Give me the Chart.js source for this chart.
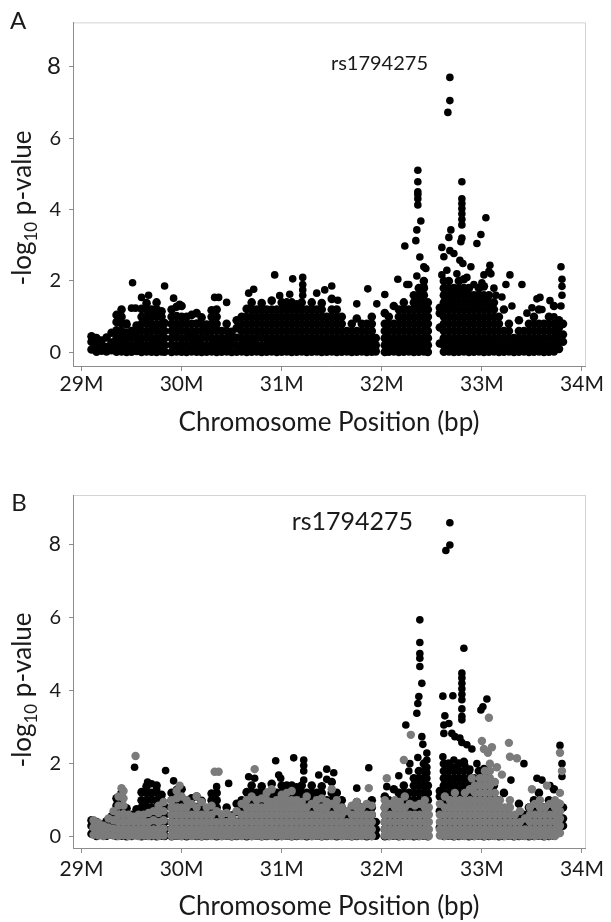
<!DOCTYPE html>
<html>
<head>
<meta charset="utf-8">
<script src="https://cdn.jsdelivr.net/npm/chart.js@4.4.1/dist/chart.umd.min.js"></script>
<style>
  body { margin: 0; background: #fff; }
  canvas { display: block; }
</style>
</head>
<body>
<canvas id="panelA" width="611" height="460"></canvas>
<canvas id="panelB" width="611" height="462"></canvas>
<script>
// x ticks (Mb) and y ticks (-log10 p)
const xTicks = [29, 30, 31, 32, 33, 34];
const yTicks = [0, 2, 4, 6, 8];

// dense band of SNPs near the floor: column position (Mb) and the values stacked in it
const floorCols = [29.10, 29.15, 29.20, 29.25, 29.30, 29.35, 29.40, 29.45, 29.50, 29.55,
  29.60, 29.65, 29.70, 29.75, 29.80, 29.83, 29.90, 29.95, 30.00, 30.05,
  30.10, 30.15, 30.20, 30.25, 30.30, 30.35, 30.40, 30.45, 30.50, 30.55,
  30.60, 30.65, 30.70, 30.75, 30.80, 30.85, 30.90, 30.95, 31.00, 31.05,
  31.10, 31.15, 31.20, 31.25, 31.30, 31.35, 31.40, 31.45, 31.50, 31.55,
  31.60, 31.65, 31.70, 31.75, 31.80, 31.85, 31.90, 31.94, 32.03, 32.07,
  32.12, 32.17, 32.22, 32.27, 32.32, 32.37, 32.42, 32.46, 32.58, 32.62,
  32.67, 32.72, 32.77, 32.82, 32.87, 32.92, 32.97, 33.02, 33.07, 33.12,
  33.17, 33.22, 33.27, 33.32, 33.37, 33.42, 33.47, 33.52, 33.57, 33.62,
  33.67, 33.72, 33.77, 33.81];
const floorStacks = [
  [0.08, 0.3, 0.45], [0.02, 0.22, 0.4], [0.05, 0.18, 0.33], [0.03, 0.15, 0.42], [0.06, 0.28, 0.55],
  [0.02, 0.2, 0.4, 0.62, 0.85, 1.05], [0.03, 0.22, 0.43, 0.6, 0.82, 1.0, 1.2], [0.01, 0.19, 0.38, 0.55, 0.78],
  [0.02, 0.2, 0.41, 0.6], [0.04, 0.22, 0.4, 0.58, 0.75],
  [0.01, 0.2, 0.39, 0.6, 0.8, 1.0, 1.22], [0.03, 0.21, 0.42, 0.6, 0.81, 1.0, 1.2, 1.38],
  [0.02, 0.19, 0.4, 0.61, 0.8, 1.01, 1.2], [0.01, 0.2, 0.4, 0.6, 0.79, 1.0, 1.21, 1.4],
  [0.03, 0.22, 0.41, 0.6, 0.8, 1.0, 1.15], [0.02, 0.2, 0.4, 0.6, 0.82],
  [0.01, 0.21, 0.4, 0.6, 0.8, 1.0, 1.2], [0.03, 0.2, 0.42, 0.61, 0.8, 1.02, 1.28],
  [0.02, 0.2, 0.39, 0.6, 0.8, 1.0, 1.3], [0.01, 0.21, 0.41, 0.6, 0.8, 1.0],
  [0.03, 0.2, 0.4, 0.59, 0.8, 1.05], [0.02, 0.2, 0.4, 0.6, 0.81, 1.1], [0.01, 0.19, 0.4, 0.6, 0.8, 0.98],
  [0.02, 0.2, 0.41, 0.6, 0.78], [0.03, 0.21, 0.4, 0.6, 0.8, 1.0, 1.18], [0.01, 0.2, 0.4, 0.62, 0.8, 1.0, 1.2],
  [0.02, 0.2, 0.4, 0.6], [0.03, 0.2, 0.39, 0.6, 0.8], [0.01, 0.22, 0.4, 0.58], [0.02, 0.2, 0.41, 0.68, 0.9],
  [0.03, 0.2, 0.4, 0.6, 0.8, 1.0], [0.01, 0.2, 0.4, 0.6, 0.8, 1.0, 1.22], [0.02, 0.21, 0.4, 0.6, 0.8, 1.0, 1.2, 1.4],
  [0.03, 0.2, 0.4, 0.6, 0.8, 1.0, 1.2], [0.01, 0.2, 0.41, 0.6, 0.8, 1.0, 1.2, 1.38], [0.02, 0.2, 0.4, 0.6, 0.8, 1.0, 1.2],
  [0.03, 0.2, 0.4, 0.6, 0.8, 1.0, 1.2, 1.45], [0.01, 0.2, 0.4, 0.6, 0.8, 1.0, 1.2], [0.02, 0.2, 0.4, 0.6, 0.8, 1.0, 1.2, 1.4],
  [0.03, 0.2, 0.4, 0.6, 0.8, 1.0, 1.2, 1.4], [0.01, 0.2, 0.4, 0.6, 0.8, 1.0, 1.2, 1.4], [0.02, 0.2, 0.4, 0.6, 0.8, 1.0, 1.2, 1.35],
  [0.03, 0.2, 0.4, 0.6, 0.8, 1.0, 1.2, 1.4], [0.01, 0.2, 0.4, 0.6, 0.8, 1.0, 1.2], [0.02, 0.2, 0.4, 0.6, 0.8, 1.0, 1.2, 1.4],
  [0.03, 0.2, 0.4, 0.6, 0.8, 1.0, 1.2], [0.01, 0.2, 0.4, 0.6, 0.8, 1.0, 1.2, 1.38], [0.02, 0.2, 0.4, 0.6, 0.8, 1.0],
  [0.03, 0.2, 0.4, 0.6, 0.8, 1.0, 1.2, 1.5], [0.01, 0.2, 0.4, 0.6, 0.8, 1.0, 1.2],
  [0.02, 0.2, 0.4, 0.6, 0.8, 1.0], [0.03, 0.2, 0.4, 0.6], [0.01, 0.2, 0.4, 0.6, 0.8], [0.02, 0.2, 0.4, 0.6, 0.95],
  [0.03, 0.2, 0.4, 0.6, 0.8], [0.01, 0.2, 0.4, 0.6, 0.8], [0.02, 0.2, 0.4, 0.6, 0.8, 1.0], [0.03, 0.2, 0.4],
  [0.01, 0.2, 0.4, 0.6, 0.8, 1.1], [0.02, 0.2, 0.4, 0.6, 0.8, 1.0], [0.03, 0.2, 0.4, 0.6, 0.8, 1.3],
  [0.01, 0.2, 0.4, 0.6, 0.8, 1.0, 1.2], [0.02, 0.2, 0.4, 0.6, 0.8, 1.0, 1.2, 1.4], [0.03, 0.2, 0.4, 0.6, 0.8, 1.0, 1.2],
  [0.01, 0.2, 0.4, 0.6, 0.8, 1.0, 1.2, 1.4, 1.6], [0.02, 0.2, 0.4, 0.6, 0.8, 1.0, 1.2, 1.4, 1.6, 1.8],
  [0.03, 0.2, 0.4, 0.6, 0.8, 1.0, 1.2, 1.4, 1.6, 1.8, 2.0], [0.01, 0.2, 0.4, 0.6, 0.8, 1.0, 1.2, 1.4],
  [0.25, 0.7, 1.1, 1.25], [0.02, 0.2, 0.4, 0.6, 0.8, 1.0, 1.2, 1.4, 1.6, 1.8, 2.0],
  [0.03, 0.2, 0.4, 0.6, 0.8, 1.0, 1.2, 1.4, 1.6, 1.8, 2.0], [0.01, 0.2, 0.4, 0.6, 0.8, 1.0, 1.2, 1.4, 1.6, 1.8],
  [0.02, 0.2, 0.4, 0.6, 0.8, 1.0, 1.2, 1.4, 1.6, 1.8, 2.0], [0.03, 0.2, 0.4, 0.6, 0.8, 1.0, 1.2, 1.4, 1.6, 1.8, 2.05],
  [0.01, 0.2, 0.4, 0.6, 0.8, 1.0, 1.2, 1.4, 1.6, 1.8], [0.02, 0.2, 0.4, 0.6, 0.8, 1.0, 1.2, 1.4, 1.6],
  [0.03, 0.2, 0.4, 0.6, 0.8, 1.0, 1.2, 1.4, 1.6, 1.8], [0.01, 0.2, 0.4, 0.6, 0.8, 1.0, 1.2, 1.4, 1.6, 1.85],
  [0.02, 0.2, 0.4, 0.6, 0.8, 1.0, 1.2, 1.4, 1.6], [0.03, 0.2, 0.4, 0.6, 0.8, 1.0, 1.2, 1.4],
  [0.01, 0.2, 0.4, 0.6, 0.8, 1.0], [0.02, 0.2, 0.4, 0.6, 1.2], [0.03, 0.2, 0.4, 0.6, 0.8],
  [0.01, 0.2, 0.4], [0.02, 0.2, 0.4, 0.6, 0.9], [0.03, 0.2, 0.4, 0.6], [0.01, 0.2, 0.4, 0.6, 0.8],
  [0.02, 0.2, 0.4, 0.6, 0.8, 1.0], [0.03, 0.2, 0.4, 0.6, 0.8, 1.2], [0.01, 0.2, 0.4, 0.6, 0.8],
  [0.02, 0.2, 0.4, 0.6, 0.8, 1.0], [0.03, 0.2, 0.4, 0.6, 0.8, 1.3], [0.1, 0.3, 0.5, 0.7, 0.9], [0.3, 0.5, 0.8]
];

// panel A: SNPs standing above the band
const hitPosA = [29.45, 29.5, 29.54, 29.51, 29.6, 29.67, 29.83, 29.92, 29.98, 30.33, 30.37, 30.45, 30.67, 30.72,
  30.93, 30.98, 31.08, 31.11, 31.21, 31.21, 31.21, 31.21, 31.35, 31.43, 31.5, 31.56, 31.75, 31.86, 31.95,
  32.03, 32.16, 32.25, 32.27, 32.23, 32.35, 32.39, 32.34, 32.38, 32.42, 32.44, 32.35, 32.42, 32.42,
  32.36, 32.36, 32.36, 32.36, 32.36, 32.36, 32.68, 32.68, 32.66,
  32.8, 32.8, 32.8, 32.8, 32.8, 32.8, 32.8, 32.8, 32.79, 33.04, 32.99, 32.95, 32.69, 32.67, 32.6, 32.62,
  32.68, 32.72, 32.78, 32.81, 32.89, 32.6, 33.08, 33.07, 33.02, 33.09, 33.24, 33.28, 33.4, 33.55, 33.58,
  33.68, 33.79, 33.8, 33.8, 33.8, 33.79, 32.65, 32.75, 32.85, 32.92, 33.0, 33.12, 33.2, 33.14, 33.3,
  33.45, 33.5, 33.6, 33.72];
const hitLogA = [0.82, 1.24, 1.24, 1.95, 1.54, 1.6, 1.86, 1.52, 1.35, 1.54, 1.54, 1.4, 1.66, 1.77,
  2.17, 1.59, 1.63, 2.06, 2.1, 1.9, 1.75, 1.6, 1.66, 1.75, 1.86, 1.46, 1.36, 1.78, 1.36,
  1.62, 2.05, 1.9, 1.9, 2.98, 3.43, 3.68, 3.13, 2.67, 2.4, 2.35, 2.14, 2.0, 1.85,
  5.1, 4.78, 4.5, 4.42, 4.3, 4.13, 7.7, 7.05, 6.72,
  4.78, 4.3, 4.17, 4.03, 3.88, 3.73, 3.57, 3.2, 3.1, 3.77, 3.3, 3.05, 3.43, 3.22, 2.94, 2.68,
  2.85, 2.77, 2.58, 2.49, 2.4, 2.17, 2.44, 2.27, 2.17, 2.2, 1.9, 2.17, 1.9, 1.5, 1.54,
  1.45, 2.4, 2.05, 1.85, 1.6, 1.3, 2.3, 2.2, 2.1, 1.9, 1.95, 1.8, 1.55, 1.6, 1.3,
  1.1, 1.25, 1.2, 1.0];

// panel B, black series: SNPs above the band
const hitPosB = [32.68, 32.68, 32.64, 32.38, 32.38, 32.38, 32.38, 32.38, 32.4, 32.37, 32.36, 32.35, 32.24,
  32.4, 32.41, 32.45, 32.45, 32.45, 32.45, 32.45, 32.36, 32.28, 32.27, 32.17, 32.05, 31.87, 31.75,
  31.12, 31.22, 31.22, 31.22, 31.22, 31.37, 31.45, 31.52, 31.45, 30.99,
  32.82, 32.8, 32.8, 32.8, 32.8, 32.8, 32.8, 32.8, 32.8, 32.8,
  32.61, 32.71, 32.99, 33.01, 33.05, 32.63, 32.62, 32.62, 32.67, 32.7, 32.73, 32.78, 32.8, 32.85, 32.9, 32.61,
  32.65, 32.65, 32.72, 32.72, 32.77, 32.83, 32.88, 32.95,
  29.53, 29.84, 29.92, 30.47, 30.35, 30.67, 30.73, 30.94, 30.97, 29.66, 29.7, 29.75,
  33.78, 33.8, 33.8, 33.29, 33.42, 33.55, 33.6, 33.68];
const hitLogB = [8.6, 7.99, 7.84, 5.94, 5.32, 5.02, 4.89, 4.66, 4.2, 3.84, 3.65, 3.38, 3.06,
  2.74, 2.53, 2.29, 2.1, 1.9, 1.75, 1.6, 2.17, 2.0, 1.8, 1.67, 1.37, 1.89, 1.33,
  2.16, 2.1, 1.95, 1.8, 1.55, 1.69, 1.85, 1.75, 1.57, 1.6,
  5.16, 4.48, 4.35, 4.2, 4.05, 3.9, 3.75, 3.5, 3.3, 3.2,
  3.85, 3.86, 3.47, 3.56, 3.77, 3.31, 3.06, 2.83, 3.1, 2.83, 2.74, 2.7, 2.58, 2.52, 2.4, 2.19,
  2.0, 1.8, 2.1, 1.9, 2.0, 1.95, 1.85, 2.0,
  1.9, 1.81, 1.53, 1.46, 1.37, 1.64, 1.6, 2.08, 1.69, 1.5, 1.45, 1.3,
  2.5, 2.0, 1.65, 1.55, 2.0, 1.6, 1.55, 1.4];

// panel B, grey series: dense band and the few above it
const grayCols = [29.12, 29.17, 29.22, 29.27, 29.32, 29.37, 29.42, 29.47, 29.52, 29.57,
  29.62, 29.67, 29.72, 29.77, 29.82, 29.90, 29.95, 30.00, 30.05, 30.10,
  30.15, 30.20, 30.25, 30.30, 30.35, 30.40, 30.45, 30.50, 30.55, 30.60,
  30.65, 30.70, 30.75, 30.80, 30.85, 30.90, 30.95, 31.00, 31.05, 31.10,
  31.15, 31.20, 31.25, 31.30, 31.35, 31.40, 31.45, 31.50, 31.55, 31.60,
  31.65, 31.70, 31.75, 31.80, 31.85, 31.90, 32.03, 32.08, 32.13, 32.18,
  32.23, 32.28, 32.33, 32.38, 32.43, 32.47, 32.58, 32.63, 32.68, 32.73,
  32.78, 32.83, 32.88, 32.93, 32.98, 33.03, 33.08, 33.13, 33.18, 33.23,
  33.28, 33.33, 33.38, 33.43, 33.48, 33.53, 33.58, 33.63, 33.68, 33.73, 33.78];
const grayStacks = [
  [0.05, 0.25, 0.45], [0.03, 0.2, 0.38], [0.02, 0.18, 0.3], [0.05, 0.25, 0.5], [0.03, 0.22, 0.45, 0.7],
  [0.02, 0.2, 0.4, 0.6, 0.85, 1.1], [0.04, 0.22, 0.42, 0.62, 0.85, 1.05, 1.25], [0.02, 0.2, 0.4, 0.6],
  [0.03, 0.2, 0.4, 0.55], [0.02, 0.2, 0.4, 0.6],
  [0.03, 0.22, 0.42, 0.6], [0.02, 0.2, 0.4, 0.65], [0.03, 0.2, 0.45, 0.7], [0.02, 0.2, 0.4, 0.65, 0.85],
  [0.03, 0.22, 0.45, 0.7, 0.95], [0.02, 0.2, 0.4, 0.6, 0.8, 1.0], [0.03, 0.2, 0.4, 0.6, 0.8, 1.05, 1.25],
  [0.02, 0.2, 0.4, 0.6, 0.8, 1.1], [0.03, 0.2, 0.4, 0.6, 0.8, 1.0], [0.02, 0.2, 0.4, 0.6, 0.9],
  [0.03, 0.2, 0.4, 0.6, 0.8, 1.1], [0.02, 0.2, 0.4, 0.6, 0.95], [0.03, 0.2, 0.4, 0.6, 0.8], [0.02, 0.2, 0.4, 0.6, 0.85],
  [0.03, 0.2, 0.4, 0.7], [0.02, 0.2, 0.4, 0.6], [0.03, 0.2, 0.4, 0.65], [0.02, 0.2, 0.4, 0.55],
  [0.03, 0.2, 0.4, 0.7], [0.02, 0.2, 0.4, 0.6, 0.9],
  [0.03, 0.2, 0.4, 0.6, 0.8, 1.0], [0.02, 0.2, 0.4, 0.6, 0.8, 1.1], [0.03, 0.2, 0.4, 0.6, 0.8, 1.0],
  [0.02, 0.2, 0.4, 0.6, 0.8, 1.05], [0.03, 0.2, 0.4, 0.6, 0.8, 1.0, 1.2], [0.02, 0.2, 0.4, 0.6, 0.8, 0.95],
  [0.03, 0.2, 0.4, 0.6, 0.8, 1.0], [0.02, 0.2, 0.4, 0.6, 0.8, 1.0, 1.15], [0.03, 0.2, 0.4, 0.6, 0.8, 1.0, 1.2],
  [0.02, 0.2, 0.4, 0.6, 0.8, 1.0, 1.25],
  [0.03, 0.2, 0.4, 0.6, 0.8, 1.0], [0.02, 0.2, 0.4, 0.6, 0.8, 0.95], [0.03, 0.2, 0.4, 0.6, 0.8, 1.1],
  [0.02, 0.2, 0.4, 0.6, 0.9], [0.03, 0.2, 0.4, 0.6, 0.8, 1.0], [0.02, 0.2, 0.4, 0.6, 0.8, 1.05],
  [0.03, 0.2, 0.4, 0.6, 0.8, 0.95], [0.02, 0.2, 0.4, 0.6, 0.9], [0.03, 0.2, 0.4, 0.6, 0.8, 1.0], [0.02, 0.2, 0.4, 0.6, 0.8],
  [0.03, 0.2, 0.4, 0.7], [0.02, 0.2, 0.4, 0.6, 0.85], [0.03, 0.2, 0.4, 0.6, 0.8, 0.95], [0.02, 0.2, 0.4, 0.6, 0.8],
  [0.03, 0.2, 0.4, 0.6, 0.9], [0.02, 0.2, 0.4, 0.6, 0.85], [0.03, 0.2, 0.4, 0.6, 0.8, 1.0], [0.02, 0.2, 0.4, 0.6, 0.9],
  [0.03, 0.2, 0.4, 0.6, 0.8, 1.0], [0.02, 0.2, 0.4, 0.6, 0.8, 0.95],
  [0.03, 0.2, 0.4, 0.6, 0.8, 1.1], [0.02, 0.2, 0.4, 0.6, 0.9], [0.03, 0.2, 0.4, 0.6, 0.85], [0.02, 0.2, 0.4, 0.6, 0.9],
  [0.03, 0.2, 0.4, 0.6, 0.8, 1.0], [0.02, 0.2, 0.4, 0.6, 0.8], [0.03, 0.2, 0.4, 0.6, 0.9],
  [0.02, 0.2, 0.4, 0.6, 0.8, 1.1], [0.03, 0.2, 0.4, 0.6, 0.8, 1.0], [0.02, 0.2, 0.4, 0.6, 0.8, 1.0, 1.2],
  [0.03, 0.2, 0.4, 0.6, 0.8, 1.0], [0.02, 0.2, 0.4, 0.6, 0.8, 1.0, 1.2], [0.03, 0.2, 0.4, 0.6, 0.8, 1.0, 1.3],
  [0.02, 0.2, 0.4, 0.6, 0.8, 1.0, 1.2, 1.4], [0.03, 0.2, 0.4, 0.6, 0.8, 1.0, 1.2, 1.4, 1.6],
  [0.02, 0.2, 0.4, 0.6, 0.8, 1.0, 1.2, 1.4, 1.6, 1.8], [0.03, 0.2, 0.4, 0.6, 0.8, 1.0, 1.2, 1.4, 1.6, 1.8, 2.0],
  [0.02, 0.2, 0.4, 0.6, 0.8, 1.0, 1.2, 1.5], [0.03, 0.2, 0.4, 0.6, 0.8, 1.0], [0.02, 0.2, 0.4, 0.6, 0.8],
  [0.03, 0.2, 0.4, 0.6, 0.8, 1.0], [0.02, 0.2, 0.4, 0.6], [0.03, 0.2, 0.4, 0.7], [0.02, 0.2, 0.5],
  [0.03, 0.2, 0.4, 0.6, 0.8], [0.02, 0.2, 0.4, 0.6, 0.9], [0.03, 0.2, 0.4, 0.6, 0.8, 1.0], [0.02, 0.2, 0.4, 0.6, 0.8],
  [0.03, 0.2, 0.4, 0.6, 0.9], [0.02, 0.2, 0.4, 0.6, 0.8, 1.0], [0.1, 0.3, 0.5, 0.7, 0.9, 1.2]
];
const grayHitPos = [29.54, 30.33, 30.37, 30.73, 32.29, 32.22, 32.05, 31.87, 33.07, 33.0, 33.02, 33.06, 33.1,
  33.28, 33.27, 33.35, 33.78, 33.8, 29.4, 32.9, 33.15, 33.2, 33.5, 33.65, 30.9, 31.5, 29.98];
const grayHitLog = [2.21, 1.78, 1.78, 1.85, 2.79, 2.1, 1.6, 1.33, 3.26, 2.62, 2.4, 2.3, 2.45,
  2.19, 2.57, 2.15, 2.3, 1.8, 1.33, 1.6, 1.9, 1.7, 1.3, 1.4, 1.3, 1.3, 1.4];

const stackPoints = (cols, stacks) => cols.flatMap((x, i) => stacks[i].map(y => ({x: x, y: y})));
const pairPoints = (xs, ys) => xs.map((x, i) => ({x: x, y: ys[i]}));

const INK = '#1a1a1a';

// light grey frame round the plot area
const frame = {
  id: 'frame',
  beforeDraw(chart) {
    const {ctx, chartArea: a} = chart;
    ctx.save();
    ctx.strokeStyle = '#d4d4d4';
    ctx.lineWidth = 1;
    ctx.strokeRect(a.left + 0.5, a.top + 0.5, a.right - a.left, a.bottom - a.top);
    ctx.restore();
  }
};

// panel letter, SNP label and the y title with its subscript
const panelText = {
  id: 'panelText',
  afterDraw(chart, args, o) {
    const c = chart.ctx;
    c.save();
    c.fillStyle = INK;
    c.textBaseline = 'middle';
    c.textAlign = 'center';
    c.font = '24px Lato';
    c.fillText(o.letter, o.letterX, o.letterY);
    c.textAlign = 'right';
    c.font = o.rsSize + 'px Lato';
    c.fillText('rs1794275', o.rsX, o.rsY);

    c.translate(o.titleX, o.titleY);
    c.rotate(-Math.PI / 2);
    c.textAlign = 'left';
    c.textBaseline = 'alphabetic';
    const big = '26px Lato', small = '17px Lato';
    c.font = big;
    const w1 = c.measureText('-log').width, w3 = c.measureText(' p-value').width;
    c.font = small;
    const w2 = c.measureText('10').width;
    let x = -(w1 + w2 + w3) / 2;
    c.font = big; c.fillText('-log', x, 9); x += w1;
    c.font = small; c.fillText('10', x, 15); x += w2;
    c.font = big; c.fillText(' p-value', x, 9);
    c.restore();
  }
};

function makePanel(id, datasets, p) {
  return new Chart(document.getElementById(id), {
    type: 'scatter',
    data: { datasets: datasets },
    plugins: [frame, panelText],
    options: {
      responsive: false,
      animation: false,
      events: [],
      layout: { padding: { left: 0, right: 26, top: p.top, bottom: 0 } },
      plugins: {
        legend: { display: false },
        tooltip: { enabled: false },
        panelText: p.text
      },
      scales: {
        x: {
          type: 'linear',
          min: 28.915,
          max: 34.03,
          afterBuildTicks: s => { s.ticks = xTicks.map(v => ({value: v})); },
          afterFit: s => { s.height = p.xHeight; },
          border: { color: '#8c8c8c' },
          grid: { drawOnChartArea: false, tickLength: 5, color: '#8c8c8c' },
          ticks: {
            padding: p.xPad,
            color: INK,
            maxRotation: 0,
            font: { family: 'Lato', size: 21 },
            callback: v => v + 'M'
          },
          title: {
            display: true,
            text: 'Chromosome Position (bp)',
            color: INK,
            font: { family: 'Lato', size: 26 },
            padding: { top: 0, bottom: p.titlePad }
          }
        },
        y: {
          min: p.yMin,
          max: p.yMax,
          afterBuildTicks: s => { s.ticks = yTicks.map(v => ({value: v})); },
          afterFit: s => { s.width = 73; },
          border: { color: '#8c8c8c' },
          grid: { drawOnChartArea: false, tickLength: 4, color: '#8c8c8c' },
          ticks: {
            padding: 8,
            color: INK,
            font: c => ({ family: 'Lato', size: (c.tick && c.tick.value === 8) ? p.size8 : p.sizeY })
          }
        }
      }
    }
  });
}

const hitDot = { pointStyle: 'circle', pointRadius: 3.8, pointBorderWidth: 0, backgroundColor: '#000', borderColor: '#000' };
const bandDot = { pointStyle: 'circle', pointRadius: 4.3, pointBorderWidth: 0, backgroundColor: '#000', borderColor: '#000' };

makePanel('panelA', [
  Object.assign({ label: 'hits', data: pairPoints(hitPosA, hitLogA) }, hitDot),
  Object.assign({ label: 'band', data: stackPoints(floorCols, floorStacks) }, bandDot)
], {
  top: 10, xHeight: 94, xPad: 1, titlePad: 22, yMin: -0.38, yMax: 9.24, size8: 24, sizeY: 20,
  text: { letter: 'A', letterX: 18, letterY: 21, rsSize: 20, rsX: 428, rsY: 64, titleX: 22, titleY: 208 }
});

makePanel('panelB', [
  { label: 'grey', data: stackPoints(grayCols, grayStacks).concat(pairPoints(grayHitPos, grayHitLog)),
    pointStyle: 'circle', pointRadius: 4.2, pointBorderWidth: 0, backgroundColor: '#7b7b7b', borderColor: '#7b7b7b' },
  Object.assign({ label: 'hits', data: pairPoints(hitPosB, hitLogB) }, hitDot),
  Object.assign({ label: 'band', data: stackPoints(floorCols, floorStacks) }, bandDot)
], {
  top: 35, xHeight: 74, xPad: 4, titlePad: 0, yMin: -0.31, yMax: 9.36, size8: 21, sizeY: 20,
  text: { letter: 'B', letterX: 19, letterY: 43, rsSize: 25, rsX: 413, rsY: 62, titleX: 22, titleY: 230 }
});
</script>
</body>
</html>
